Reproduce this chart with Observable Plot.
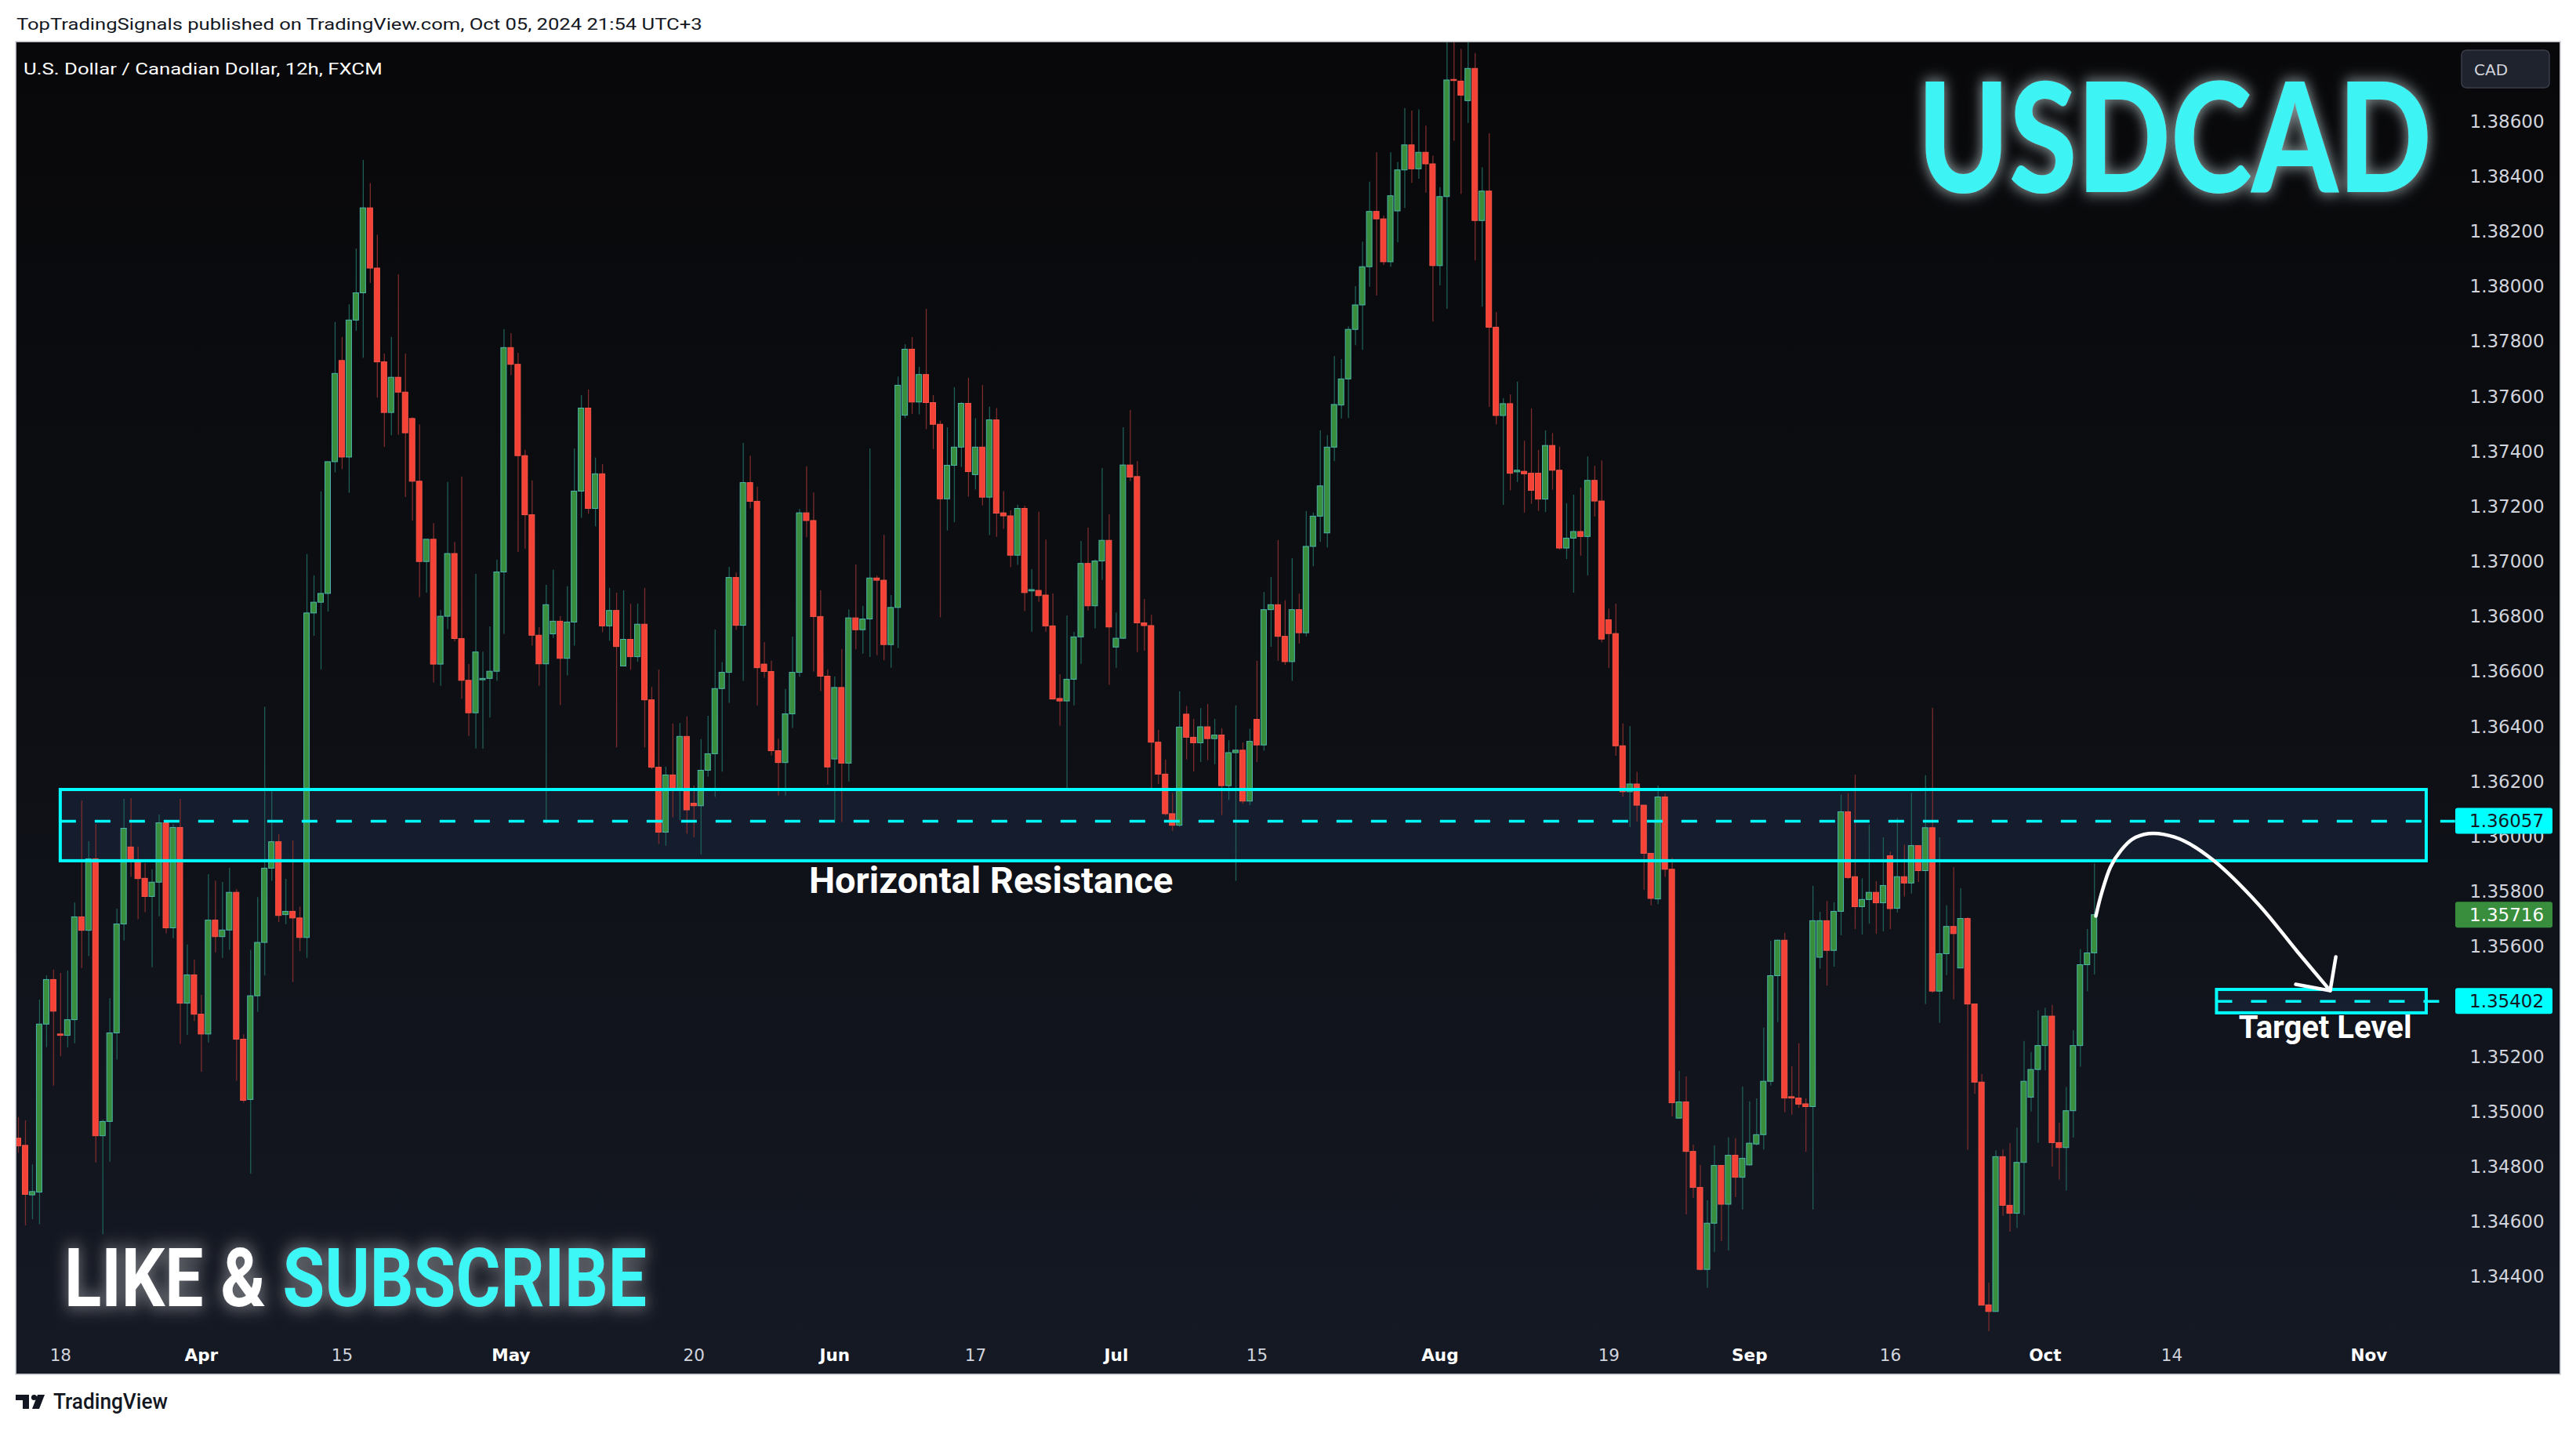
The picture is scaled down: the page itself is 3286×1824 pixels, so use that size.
<!DOCTYPE html>
<html>
<head>
<meta charset="utf-8">
<script src="https://cdn.jsdelivr.net/npm/d3@7"></script>
<script src="https://cdn.jsdelivr.net/npm/@observablehq/plot@0.6"></script>
<style>
  html, body { margin:0; padding:0; background:#ffffff; }
  body { width:3286px; height:1824px; position:relative; overflow:hidden; }
  #panel { position:absolute; left:21px; top:54px; width:3244px; height:1698px;
           background: linear-gradient(180deg, #08080a 0%, #0d0f14 50%, #151924 100%);
           box-shadow: 0 0 0 1.5px #b4b7c0; overflow:hidden; }
  #panel svg { display:block; max-width:none; }
  #overlay { position:absolute; left:0; top:0; pointer-events:none; }
</style>
</head>
<body>
<div id="panel"></div>
<svg id="overlay" width="3286" height="1824" xmlns="http://www.w3.org/2000/svg">
  <defs>
    <filter id="glowTitle" x="-15%" y="-40%" width="130%" height="180%">
      <feMorphology in="SourceAlpha" operator="dilate" radius="2" result="d"/>
      <feGaussianBlur in="d" stdDeviation="9" result="b"/>
      <feFlood flood-color="#e8ffff" flood-opacity="0.55"/>
      <feComposite in2="b" operator="in" result="g"/>
      <feMerge><feMergeNode in="g"/><feMergeNode in="SourceGraphic"/></feMerge>
    </filter>
    <filter id="glowLike" x="-10%" y="-40%" width="120%" height="180%">
      <feMorphology in="SourceAlpha" operator="dilate" radius="4" result="d"/>
      <feGaussianBlur in="d" stdDeviation="10" result="b"/>
      <feFlood flood-color="#ffffff" flood-opacity="0.33"/>
      <feComposite in2="b" operator="in" result="g"/>
      <feMerge><feMergeNode in="g"/><feMergeNode in="SourceGraphic"/></feMerge>
    </filter>
  </defs>
  <text class="fit" data-w="875" x="21" y="38" font-family="Roboto, sans-serif" font-size="21" fill="#131722">TopTradingSignals published on TradingView.com, Oct 05, 2024 21:54 UTC+3</text>
  <text class="fit" data-w="458" x="30" y="95" font-family="Roboto, sans-serif" font-size="20" fill="#ffffff">U.S. Dollar / Canadian Dollar, 12h, FXCM</text>
  <text class="fit" data-w="656" x="2446" y="245" font-family="Lato, sans-serif" font-weight="900" font-size="194" fill="#3ef3f3" filter="url(#glowTitle)">USDCAD</text>
  <text class="fit" data-w="743" x="82" y="1666" font-family="Roboto, sans-serif" font-weight="700" font-size="103" filter="url(#glowLike)"><tspan fill="#ffffff">LIKE &amp; </tspan><tspan fill="#3ef6f6">SUBSCRIBE</tspan></text>
  <rect x="3140" y="64" width="112" height="48" rx="6" fill="#1f232e" stroke="#3a3e4a" stroke-width="1.5"/>
  <text x="3156" y="96" font-family="'DejaVu Sans', sans-serif" font-size="20" fill="#d1d4dc">CAD</text>
  <g fill="#131722">
    <path d="M20,1779 H37 V1797 H29 V1786 H20 Z"/>
    <circle cx="43.5" cy="1782.5" r="3.6"/>
    <path d="M48,1779 H57 L50,1797 H41 Z"/>
  </g>
  <text class="fit" data-w="146" x="68" y="1797" font-family="Roboto, sans-serif" font-weight="500" font-size="27" fill="#131722">TradingView</text>
</svg>
<script>
// ---- USDCAD 12h candles (FXCM), index 0 = Mar 13 2024 first half ----
const opens = [
1.34903,1.34877,1.34697,1.34707,1.35318,1.35480,1.35282,1.35277,1.35334,1.35708,
1.35659,1.35919,1.34912,1.34964,1.35286,1.35682,1.35962,1.35911,1.35848,1.35782,
1.35834,1.36050,1.35668,1.36033,1.35394,1.35497,1.35354,1.35282,1.35696,1.35636,
1.35660,1.35797,1.35263,1.35044,1.35421,1.35615,1.35885,1.35981,1.35716,1.35728,
1.35704,1.35633,1.36813,1.36852,1.36884,1.37363,1.37731,1.37380,1.37878,1.37977,
1.38286,1.38067,1.37726,1.37542,1.37670,1.37616,1.37520,1.37292,1.37000,1.37081,
1.36627,1.36801,1.37029,1.36720,1.36568,1.36450,1.36570,1.36575,1.36601,1.36962,
1.37778,1.37717,1.37385,1.37170,1.36732,1.36628,1.36737,1.36783,1.36648,1.36780,
1.37256,1.37558,1.37193,1.37319,1.36766,1.36822,1.36620,1.36717,1.36654,1.36772,
1.36497,1.36252,1.36016,1.36224,1.36173,1.36364,1.36121,1.36112,1.36241,1.36301,
1.36538,1.36597,1.36942,1.36768,1.37287,1.37219,1.36627,1.36600,1.36312,1.36269,
1.36446,1.36597,1.37177,1.37149,1.36800,1.36583,1.36282,1.36542,1.36267,1.36795,
1.36752,1.36791,1.36940,1.36932,1.36698,1.36833,1.37532,1.37772,1.37580,1.37680,
1.37578,1.37499,1.37228,1.37350,1.37416,1.37575,1.37316,1.37416,1.37234,1.37515,
1.37177,1.37166,1.37023,1.37193,1.36893,1.36895,1.36878,1.36766,1.36502,1.36493,
1.36572,1.36726,1.36993,1.36839,1.37002,1.37077,1.36689,1.36721,1.37351,1.37309,
1.36777,1.36767,1.36343,1.36227,1.36083,1.36041,1.36445,1.36361,1.36341,1.36399,
1.36356,1.36369,1.36185,1.36305,1.36314,1.36129,1.36426,1.36333,1.36825,1.36843,
1.36728,1.36636,1.36825,1.36741,1.37055,1.37165,1.37104,1.37416,1.37569,1.37664,
1.37844,1.37933,1.38072,1.38273,1.38246,1.38090,1.38275,1.38424,1.38515,1.38428,
1.38488,1.38446,1.38076,1.38327,1.38753,1.38747,1.38676,1.38793,1.38240,1.38347,
1.37852,1.37531,1.37574,1.37326,1.37328,1.37321,1.37321,1.37227,1.37422,1.37332,
1.37049,1.37085,1.37109,1.37091,1.37295,1.37220,1.36788,1.36738,1.36330,1.36163,
1.36191,1.36114,1.35939,1.35773,1.36144,1.35881,1.34976,1.35035,1.34855,1.34724,
1.34426,1.34594,1.34804,1.34663,1.34841,1.34761,1.34806,1.34882,1.34916,1.35110,
1.35494,1.35623,1.35054,1.35049,1.35028,1.35018,1.35561,1.35694,1.35586,1.35728,
1.36090,1.35854,1.35745,1.35771,1.35797,1.35759,1.35930,1.35739,1.35854,1.35831,
1.35967,1.35876,1.36032,1.35438,1.35574,1.35673,1.35522,1.35702,1.35391,1.35107,
1.34297,1.34273,1.34836,1.34659,1.34630,1.34815,1.35052,1.35153,1.35240,1.35347,
1.34887,1.34869,1.35003,1.35240,1.35534,1.35577];
const highs = [
1.34980,1.34968,1.34808,1.35407,1.35495,1.35516,1.35504,1.35513,1.35760,1.36131,
1.35983,1.36046,1.34970,1.35412,1.35738,1.36137,1.36140,1.35963,1.35903,1.35881,
1.36080,1.36059,1.36045,1.36137,1.35607,1.35552,1.35424,1.35863,1.35840,1.35835,
1.35886,1.35809,1.35281,1.35588,1.35780,1.36472,1.36165,1.36008,1.35846,1.35986,
1.35745,1.37027,1.36950,1.37255,1.37363,1.37871,1.37817,1.37935,1.38138,1.38460,
1.38376,1.38188,1.37756,1.37817,1.38045,1.37756,1.37525,1.37498,1.37081,1.37140,
1.36823,1.37289,1.37071,1.37309,1.36627,1.36955,1.36672,1.36764,1.37007,1.37845,
1.37830,1.37759,1.37406,1.37295,1.36762,1.36915,1.36970,1.36801,1.36910,1.37411,
1.37605,1.37625,1.37378,1.37354,1.36904,1.36887,1.36895,1.36846,1.36847,1.36904,
1.36544,1.36607,1.36254,1.36411,1.36413,1.36437,1.36185,1.36354,1.36439,1.36753,
1.36634,1.36981,1.36960,1.37432,1.37385,1.37272,1.36707,1.36639,1.36356,1.36537,
1.36727,1.37191,1.37346,1.37251,1.36895,1.36608,1.36582,1.36682,1.36826,1.36989,
1.36839,1.37411,1.36949,1.37097,1.36878,1.37673,1.37790,1.37816,1.37708,1.37919,
1.37605,1.37512,1.37488,1.37634,1.37580,1.37668,1.37521,1.37642,1.37563,1.37558,
1.37256,1.37186,1.37207,1.37203,1.36972,1.37181,1.37080,1.36884,1.36590,1.36804,
1.36744,1.37075,1.37123,1.37008,1.37340,1.37172,1.36815,1.37488,1.37551,1.37365,
1.36864,1.36806,1.36388,1.36280,1.36159,1.36528,1.36475,1.36428,1.36467,1.36482,
1.36428,1.36394,1.36350,1.36477,1.36342,1.36392,1.36639,1.36889,1.36944,1.37078,
1.36859,1.37012,1.36883,1.37184,1.37178,1.37477,1.37460,1.37747,1.37736,1.37855,
1.38001,1.38163,1.38381,1.38488,1.38258,1.38488,1.38453,1.38649,1.38640,1.38644,
1.38585,1.38476,1.38361,1.39200,1.39460,1.38864,1.39050,1.38849,1.38434,1.38557,
1.37907,1.37594,1.37608,1.37654,1.37439,1.37557,1.37406,1.37477,1.37467,1.37418,
1.37212,1.37243,1.37269,1.37382,1.37348,1.37368,1.36829,1.36847,1.36411,1.36401,
1.36235,1.36114,1.35939,1.36185,1.36157,1.35923,1.35148,1.35128,1.34880,1.34806,
1.34677,1.34877,1.34804,1.34906,1.34903,1.35091,1.35037,1.35048,1.35305,1.35621,
1.35625,1.35650,1.35165,1.35248,1.35048,1.35821,1.35726,1.35766,1.35761,1.36152,
1.36158,1.36225,1.35848,1.36043,1.35838,1.35997,1.35945,1.36067,1.35971,1.36159,
1.35967,1.36223,1.36468,1.35997,1.35750,1.35889,1.35812,1.35707,1.35391,1.35136,
1.34378,1.34859,1.34862,1.34885,1.34942,1.35257,1.35217,1.35368,1.35377,1.35388,
1.34960,1.35089,1.35296,1.35591,1.35664,1.35902];
const lows = [
1.34850,1.34586,1.34609,1.34590,1.35234,1.35094,1.35201,1.35234,1.35248,1.35522,
1.35565,1.34815,1.34554,1.34818,1.35189,1.35622,1.35853,1.35699,1.35725,1.35525,
1.35710,1.35648,1.35630,1.35246,1.35279,1.35329,1.35145,1.35251,1.35579,1.35559,
1.35588,1.35112,1.35032,1.34774,1.35363,1.35495,1.35839,1.35689,1.35681,1.35471,
1.35583,1.35559,1.36730,1.36607,1.36818,1.37324,1.37336,1.37250,1.37839,1.37741,
1.38013,1.37596,1.37417,1.37459,1.37461,1.37235,1.37149,1.36870,1.36887,1.36560,
1.36548,1.36754,1.36710,1.36501,1.36366,1.36320,1.36319,1.36433,1.36566,1.36737,
1.37678,1.37034,1.37047,1.36694,1.36549,1.36047,1.36722,1.36478,1.36586,1.36694,
1.37159,1.37174,1.37128,1.36743,1.36712,1.36324,1.36620,1.36606,1.36635,1.36324,
1.36245,1.35973,1.35967,1.36070,1.36060,1.36010,1.35998,1.35935,1.36218,1.36144,
1.36236,1.36486,1.36751,1.36566,1.37193,1.36477,1.36577,1.36295,1.36149,1.36149,
1.36395,1.36581,1.37088,1.36600,1.36529,1.36189,1.36049,1.36053,1.36200,1.36681,
1.36665,1.36653,1.36659,1.36641,1.36614,1.36686,1.37521,1.37537,1.37535,1.37481,
1.37409,1.36797,1.37113,1.37143,1.37344,1.37236,1.37262,1.37204,1.37096,1.37090,
1.37119,1.36979,1.36988,1.36820,1.36745,1.36854,1.36745,1.36498,1.36403,1.36172,
1.36477,1.36628,1.36822,1.36757,1.36933,1.36552,1.36614,1.36718,1.37292,1.36671,
1.36676,1.36172,1.36191,1.36076,1.36021,1.36035,1.36280,1.36237,1.36271,1.36278,
1.36263,1.36078,1.36133,1.35839,1.36119,1.36114,1.36271,1.36312,1.36690,1.36639,
1.36624,1.36566,1.36702,1.36728,1.36983,1.37072,1.37051,1.37365,1.37520,1.37522,
1.37787,1.37770,1.37999,1.37967,1.38078,1.38072,1.38161,1.38286,1.38377,1.38392,
1.38341,1.37872,1.38004,1.37919,1.38530,1.38337,1.38595,1.38095,1.37927,1.37562,
1.37499,1.37206,1.37259,1.37289,1.37178,1.37210,1.37184,1.37180,1.37261,1.37043,
1.37009,1.36887,1.37021,1.36950,1.37164,1.36706,1.36613,1.36294,1.36145,1.36034,
1.36054,1.35806,1.35749,1.35754,1.35853,1.34982,1.34976,1.34626,1.34686,1.34422,
1.34359,1.34489,1.34529,1.34495,1.34689,1.34644,1.34803,1.34877,1.34862,1.35094,
1.35325,1.34997,1.34989,1.35013,1.34854,1.34644,1.35519,1.35458,1.35527,1.35641,
1.35846,1.35663,1.35644,1.35683,1.35646,1.35655,1.35663,1.35724,1.35782,1.35793,
1.35835,1.35391,1.35431,1.35322,1.35496,1.35408,1.35522,1.34861,1.35064,1.34296,
1.34201,1.34273,1.34621,1.34563,1.34577,1.34624,1.35000,1.34887,1.35150,1.34800,
1.34753,1.34713,1.34905,1.35163,1.35437,1.35498];
const closes = [
1.34875,1.34699,1.34709,1.35318,1.35480,1.35365,1.35277,1.35334,1.35708,1.35659,
1.35919,1.34912,1.34964,1.35286,1.35682,1.36030,1.35910,1.35847,1.35782,1.35834,
1.36050,1.35668,1.36033,1.35394,1.35497,1.35354,1.35282,1.35696,1.35636,1.35660,
1.35797,1.35263,1.35041,1.35421,1.35615,1.35885,1.35981,1.35713,1.35728,1.35704,
1.35633,1.36813,1.36852,1.36884,1.37363,1.37684,1.37380,1.37878,1.37977,1.38286,
1.38067,1.37726,1.37542,1.37670,1.37616,1.37468,1.37292,1.37000,1.37081,1.36627,
1.36801,1.37029,1.36720,1.36568,1.36450,1.36671,1.36575,1.36601,1.36962,1.37778,
1.37717,1.37385,1.37170,1.36732,1.36628,1.36843,1.36783,1.36648,1.36780,1.37256,
1.37558,1.37193,1.37319,1.36766,1.36822,1.36691,1.36717,1.36654,1.36772,1.36497,
1.36252,1.36016,1.36224,1.36173,1.36364,1.36097,1.36112,1.36241,1.36301,1.36538,
1.36597,1.36942,1.36768,1.37287,1.37219,1.36614,1.36600,1.36312,1.36269,1.36446,
1.36597,1.37177,1.37149,1.36800,1.36583,1.36253,1.36542,1.36267,1.36795,1.36752,
1.36791,1.36940,1.36932,1.36698,1.36833,1.37641,1.37772,1.37580,1.37680,1.37578,
1.37499,1.37228,1.37350,1.37416,1.37575,1.37327,1.37416,1.37234,1.37515,1.37176,
1.37166,1.37023,1.37193,1.36887,1.36898,1.36876,1.36766,1.36500,1.36493,1.36572,
1.36726,1.36993,1.36839,1.37002,1.37077,1.36762,1.36721,1.37351,1.37307,1.36777,
1.36767,1.36343,1.36227,1.36083,1.36041,1.36398,1.36361,1.36341,1.36399,1.36356,
1.36369,1.36185,1.36305,1.36314,1.36129,1.36346,1.36333,1.36825,1.36843,1.36728,
1.36636,1.36825,1.36741,1.37055,1.37165,1.37275,1.37416,1.37571,1.37664,1.37844,
1.37933,1.38072,1.38273,1.38246,1.38090,1.38330,1.38424,1.38515,1.38428,1.38488,
1.38446,1.38076,1.38327,1.38751,1.38749,1.38696,1.38793,1.38240,1.38347,1.37852,
1.37531,1.37574,1.37321,1.37332,1.37319,1.37259,1.37227,1.37422,1.37332,1.37049,
1.37085,1.37109,1.37091,1.37295,1.37220,1.36718,1.36738,1.36330,1.36163,1.36191,
1.36114,1.35939,1.35775,1.36144,1.35881,1.35032,1.35035,1.34855,1.34724,1.34426,
1.34594,1.34804,1.34663,1.34841,1.34761,1.34830,1.34885,1.34916,1.35110,1.35494,
1.35623,1.35049,1.35049,1.35027,1.35018,1.35694,1.35694,1.35586,1.35728,1.36090,
1.35851,1.35745,1.35771,1.35797,1.35759,1.35822,1.35738,1.35854,1.35831,1.35967,
1.35876,1.36032,1.35438,1.35574,1.35673,1.35647,1.35702,1.35391,1.35107,1.34296,
1.34273,1.34836,1.34659,1.34630,1.34815,1.35110,1.35153,1.35240,1.35347,1.34887,
1.34869,1.35003,1.35240,1.35534,1.35577,1.35716];

// price axis ticks
const priceTicks = [1.344,1.346,1.348,1.350,1.352,1.354,1.356,1.358,1.360,1.362,1.364,1.366,
  1.368,1.370,1.372,1.374,1.376,1.378,1.380,1.382,1.384,1.386];
// time axis ticks (candle index) and labels
const timeTickK = [6, 26, 46, 70, 96, 116, 136, 156, 176, 202, 226, 246, 266, 288, 306, 334];
const timeTickLabel = ["18","Apr","15","May","20","Jun","17","Jul","15","Aug","19","Sep","16","Oct","14","Nov"];
const timeTickIsMonth = [false,true,false,true,false,true,false,true,false,true,false,true,false,true,false,true];

// drawings
const zoneName = ["Horizontal Resistance", "Target Level"];
const zoneStartK = [6.0, 312.4];
const zoneEndK = [342.2, 342.2];
const zoneTop = [1.36171, 1.35444];
const zoneBottom = [1.35912, 1.35359];
const zoneLevel = [1.36057, 1.35402];
const zoneLineEndK = [346.3, 346.3];
const noteK = [138.2, 327.8];
const noteP = [1.35840, 1.35304];

const arcK = [295.2, 295.98, 297.3, 298.8, 300.4, 302.7, 304.9, 307.7, 311.9, 318.3, 323.8, 328.5];
const arcP = [1.35712, 1.35792, 1.35892, 1.35952, 1.35992, 1.36012, 1.36009, 1.35986, 1.35915, 1.35755, 1.35584, 1.35441];
const headK = [323.6, 328.5, 329.3];
const headP = [1.35464, 1.35441, 1.35564];

const badgeValue = [1.36057, 1.35716, 1.35402];
const badgeKind = ["line", "last", "line"];

// ---- build ----
const candles = opens.map((o, i) => ({k: i, open: o, high: highs[i], low: lows[i], close: closes[i], up: closes[i] >= o}));
const zones = zoneName.map((n, i) => ({name: n, k1: zoneStartK[i], k2: zoneEndK[i], top: zoneTop[i], bottom: zoneBottom[i], level: zoneLevel[i], lineEnd: zoneLineEndK[i]}));
const notes = zoneName.map((n, i) => ({label: n, k: noteK[i], p: noteP[i]}));
const arc = arcK.map((k, i) => ({k, p: arcP[i]}));
const head = headK.map((k, i) => ({k, p: headP[i]}));
const labelByK = new Map(timeTickK.map((k, i) => [k, timeTickLabel[i]]));
const monthK = timeTickK.filter((k, i) => timeTickIsMonth[i]);
const dayK = timeTickK.filter((k, i) => !timeTickIsMonth[i]);

const UP_FILL = "#388e3c", UP_EDGE = "#4db6ac", UP_WICK = "#1f5f58";
const DN_FILL = "#f44336", DN_EDGE = "#f5564a", DN_WICK = "#7d2c2c";
const CYAN = "#00ffff";

const plot = Plot.plot({
  width: 3244, height: 1698,
  marginTop: 0, marginLeft: 0, marginRight: 168, marginBottom: 50,
  style: {background: "transparent", fontFamily: "'DejaVu Sans', sans-serif", overflow: "visible"},
  x: {type: "linear", domain: [-0.2228, 342.43]},
  y: {type: "linear", domain: [1.341898, 1.388879]},
  marks: [
    Plot.rect(zones, {x1: "k1", x2: "k2", y1: "bottom", y2: "top", fill: "#1c2d4a", fillOpacity: 0.45}),
    Plot.ruleX(candles, {x: "k", y1: "low", y2: "high", stroke: d => d.up ? UP_WICK : DN_WICK, strokeWidth: 1.3, clip: true}),
    Plot.rect(candles, {x1: d => d.k - 0.39, x2: d => d.k + 0.39, y1: "open", y2: "close",
      fill: d => d.up ? UP_FILL : DN_FILL, stroke: d => d.up ? UP_EDGE : DN_EDGE, strokeWidth: 1, clip: true}),
    Plot.rect(zones, {x1: "k1", x2: "k2", y1: "bottom", y2: "top", fill: "none", stroke: CYAN, strokeWidth: 4}),
    Plot.ruleY(zones, {y: "level", x1: "k1", x2: "lineEnd", stroke: CYAN, strokeWidth: 3.5, strokeDasharray: "20,24"}),
    Plot.line(arc, {x: "k", y: "p", curve: "catmull-rom", stroke: "#ffffff", strokeWidth: 4.5, strokeLinecap: "round"}),
    Plot.line(head, {x: "k", y: "p", stroke: "#ffffff", strokeWidth: 4.5, strokeLinecap: "round", strokeLinejoin: "round"}),
    Plot.text(notes.slice(0, 1), {x: "k", y: "p", text: "label", fill: "#ffffff", fontSize: 47, fontWeight: "bold", fontFamily: "Roboto, sans-serif", lineAnchor: "middle"}),
    Plot.text(notes.slice(1), {x: "k", y: "p", text: "label", fill: "#ffffff", fontSize: 40, fontWeight: "bold", fontFamily: "Roboto, sans-serif", lineAnchor: "middle"}),
    Plot.axisY(priceTicks, {anchor: "right", tickSize: 0, tickPadding: 53, tickFormat: d => d.toFixed(5), fontSize: 23, color: "#d1d4dc", label: null}),
    Plot.axisX(dayK, {anchor: "bottom", tickSize: 0, tickPadding: 18, tickFormat: k => labelByK.get(k), fontSize: 21.5, color: "#d1d4dc", label: null}),
    Plot.axisX(monthK, {anchor: "bottom", tickSize: 0, tickPadding: 18, tickFormat: k => labelByK.get(k), fontSize: 21.5, fontWeight: "bold", color: "#ffffff", label: null})
  ]
});

document.getElementById("panel").appendChild(plot);

// price-scale badges, positioned with Plot's own y scale
const yScale = plot.scale("y");
const svg = d3.select(plot);
const gB = svg.append("g").attr("text-anchor", "start");
badgeValue.forEach((v, i) => {
  const yy = yScale.apply(v);
  const last = badgeKind[i] === "last";
  gB.append("rect").attr("x", 3111).attr("y", yy - 16.5).attr("width", 124).attr("height", 33).attr("rx", 3)
    .attr("fill", last ? "#388e3c" : CYAN);
  gB.append("text").attr("x", 3129).attr("y", yy).attr("dy", "0.36em").attr("text-anchor", "start")
    .attr("font-family", "'DejaVu Sans', sans-serif").attr("font-size", 23)
    .attr("fill", last ? "#ffffff" : "#131722").text(v.toFixed(5));
});

// fit decorative overlay texts to the widths measured in the reference
document.querySelectorAll("#overlay text.fit").forEach(el => {
  const target = +el.getAttribute("data-w");
  const x0 = +el.getAttribute("x");
  const w = el.getBBox().width;
  if (w > 0) {
    const sx = target / w;
    el.setAttribute("transform", `translate(${x0},0) scale(${sx},1) translate(${-x0},0)`);
  }
});
</script>
</body>
</html>
